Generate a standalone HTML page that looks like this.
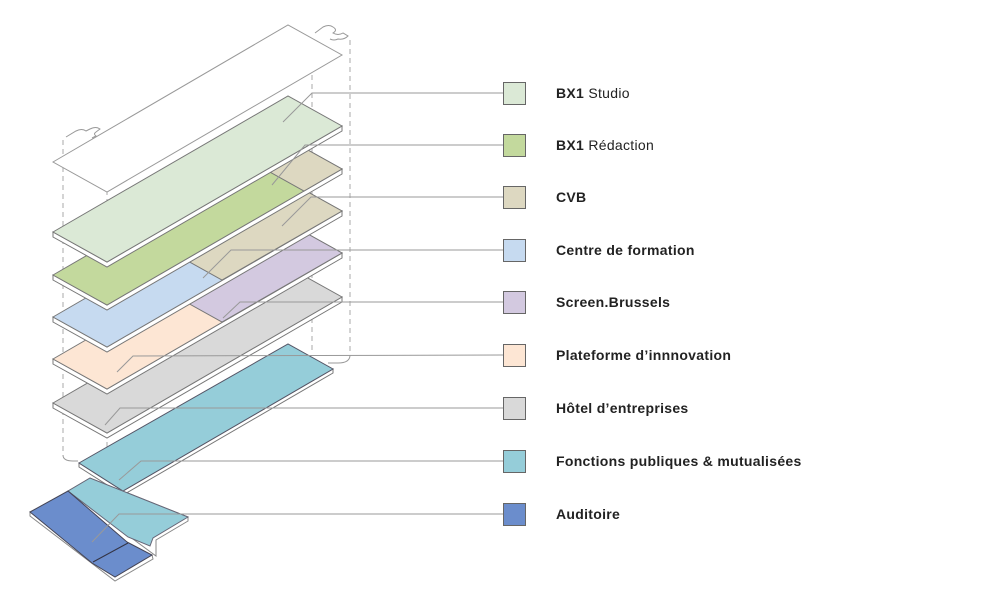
<!DOCTYPE html>
<html><head><meta charset="utf-8"><style>
body{margin:0;background:#fff;width:992px;height:609px;overflow:hidden}
svg{display:block}
text{font-family:"Liberation Sans",sans-serif;font-size:14px;fill:#222;font-weight:bold;letter-spacing:0.3px}
.r{font-weight:normal}
</style></head><body>
<svg width="992" height="609" viewBox="0 0 992 609" xmlns="http://www.w3.org/2000/svg">
<g stroke="#aaa" stroke-width="1" stroke-dasharray="5,4" fill="none">
<line x1="63" y1="140" x2="63" y2="455"/>
<line x1="350" y1="40" x2="350" y2="355"/>
<line x1="312" y1="75" x2="312" y2="350"/>
<line x1="107" y1="190" x2="107" y2="455"/>
</g>
<g stroke="#999" fill="none" stroke-width="1">
<path d="M63 455 q0 6 10 6 l5 0"/>
<path d="M350 355 q0 8 -12 8 l-10 0"/>
</g>
<polygon points="53,162 288,25 342,55 107,192" fill="#fff" stroke="#999" stroke-width="1"/>
<path d="M66 137 l10 -6 q6 -3 10 0 l4 -2 q6 -3 10 0 l-4 3 q-3 2 0 4 l-4 2" fill="none" stroke="#999"/>
<path d="M315 33 l8 -6 q6 -3 10 0 q5 3 0 6 q5 3 10 0 l5 3 q-4 4 -10 3 q-4 2 -8 0" fill="none" stroke="#999"/>

<polygon points="53,403 107,433 342,297 342,302 107,438 53,408" fill="#fff" stroke="#777"/>
<polygon points="53,403 288,267 342,297 107,433" fill="#d9d9d9" stroke="#777"/>
<polygon points="53,359 107,389 342,253 342,258 107,394 53,364" fill="#fff" stroke="#777"/>
<polygon points="53,359 288,223 342,253 107,389" fill="#fde6d4" stroke="#777"/>
<polygon points="168,292 288,223 342,253 222,322" fill="#d3c9e0" stroke="#777"/>
<polygon points="53,317 107,347 342,211 342,216 107,352 53,322" fill="#fff" stroke="#777"/>
<polygon points="53,317 288,181 342,211 107,347" fill="#c6daf0" stroke="#777"/>
<polygon points="168,250 288,181 342,211 222,280" fill="#ddd8c1" stroke="#777"/>
<polygon points="53,275 107,305 342,169 342,174 107,310 53,280" fill="#fff" stroke="#777"/>
<polygon points="53,275 288,139 342,169 107,305" fill="#c3d99d" stroke="#777"/>
<polygon points="250,161 288,139 342,169 304,191" fill="#ddd8c1" stroke="#777"/>
<polygon points="53,232 107,262 342,126 342,131 107,267 53,237" fill="#fff" stroke="#777"/>
<polygon points="53,232 288,96 342,126 107,262" fill="#dbe9d6" stroke="#777"/>
<polygon points="79,463 123,491 333,369 333,373 123,495 79,467" fill="#fff" stroke="#777"/>
<polygon points="79,463 288,344 333,369 123,491" fill="#95cdd9" stroke="#556"/>
<!-- bottom pieces -->
<polygon points="68,491 90,478 188,517 188,521 156,540 156,556" fill="#fff" stroke="#888"/>
<polygon points="68,491 90,478 188,517 153,538 150,546 128,537" fill="#95cdd9" stroke="#667"/>
<polygon points="30,512 30,516 115,581 153,559 152,555" fill="#fff" stroke="#888"/>
<polygon points="30,512 68,491 127,542 152,555 115,577 92,563" fill="#6b8dcc" stroke="#445"/>
<line x1="93" y1="562" x2="128" y2="543" stroke="#334"/>
<g stroke="#999" fill="none" stroke-width="1">
<polyline points="503,93 312,93 283,122"/>
<polyline points="503,145 305,145 272,185"/>
<polyline points="503,197 311,197 282,226"/>
<polyline points="503,250 231,250 203,278"/>
<polyline points="503,302 240,302 223,318"/>
<polyline points="503,355 133,356 117,372"/>
<polyline points="503,408 120,408 105,425"/>
<polyline points="503,461 141,461 119,480"/>
<polyline points="503,514 119,514 92,542"/>
</g>
<g stroke="#666" stroke-width="1">
<rect x="503.5" y="82.5" width="22" height="22" fill="#dbe9d6"/>
<rect x="503.5" y="134.5" width="22" height="22" fill="#c3d99d"/>
<rect x="503.5" y="186.5" width="22" height="22" fill="#ddd8c1"/>
<rect x="503.5" y="239.5" width="22" height="22" fill="#c6daf0"/>
<rect x="503.5" y="291.5" width="22" height="22" fill="#d3c9e0"/>
<rect x="503.5" y="344.5" width="22" height="22" fill="#fde6d4"/>
<rect x="503.5" y="397.5" width="22" height="22" fill="#d9d9d9"/>
<rect x="503.5" y="450.5" width="22" height="22" fill="#95cdd9"/>
<rect x="503.5" y="503.5" width="22" height="22" fill="#6b8dcc"/>
</g>
<text x="556" y="98">BX1 <tspan class="r">Studio</tspan></text>
<text x="556" y="150">BX1 <tspan class="r">Rédaction</tspan></text>
<text x="556" y="202">CVB</text>
<text x="556" y="255">Centre de formation</text>
<text x="556" y="307">Screen.Brussels</text>
<text x="556" y="360">Plateforme d’innnovation</text>
<text x="556" y="413">Hôtel d’entreprises</text>
<text x="556" y="466">Fonctions publiques &amp; mutualisées</text>
<text x="556" y="519">Auditoire</text>
</svg>
</body></html>
